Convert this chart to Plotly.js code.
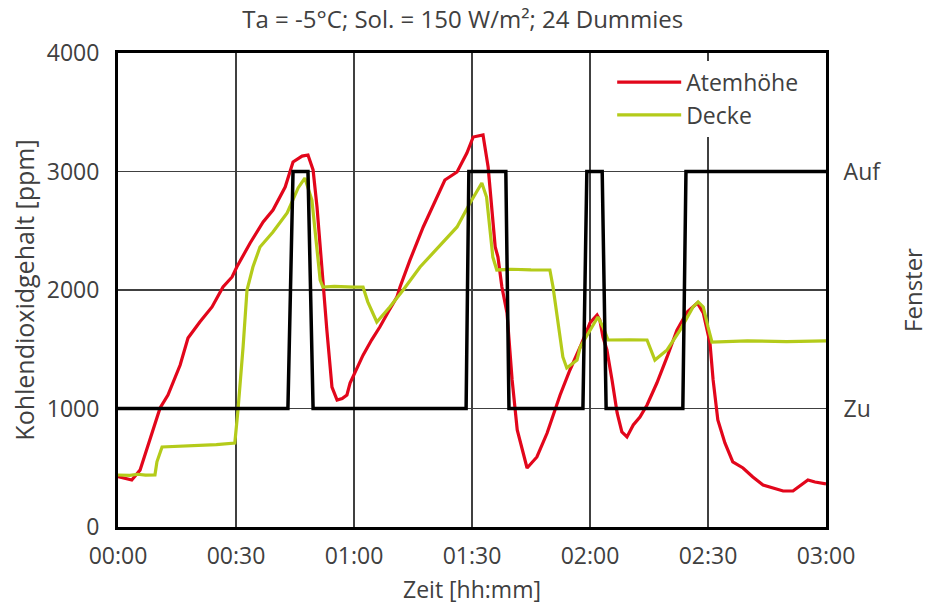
<!DOCTYPE html>
<html>
<head>
<meta charset="utf-8">
<script src="https://cdn.plot.ly/plotly-3.0.1.min.js"></script>
<style>
  html, body { margin: 0; padding: 0; background: #ffffff; }
  #chart { width: 929px; height: 608px; }
</style>
</head>
<body>
<div id="chart"></div>
<script>
// Time in minutes since start
const atemT = [0, 1.5, 3.5, 5.6, 8.1, 10.7, 12.7, 15.8, 17.8, 20.8, 23.9, 26.7, 29, 30.2, 33.6, 36.9, 39.4, 42.5, 44.5, 46.8, 48.3, 49.6, 50.6, 51.4, 52.1, 53.1, 54.4, 55.7, 57, 58.2, 59, 60.5, 62.3, 64.5, 66.6, 68.8, 70.9, 71.7, 74.2, 77.6, 80.1, 83.1, 86.2, 88.7, 90.3, 92.8, 94.1, 95.1, 95.9, 96.6, 97.6, 98.9, 100.2, 101.5, 104, 106.5, 109.1, 112.4, 114.9, 117.5, 120, 121.8, 122.5, 123.3, 124.3, 125.6, 126.9, 128.1, 129.4, 131, 132.7, 134.5, 137, 139.6, 142.1, 144.7, 147.3, 148.8, 150.5, 151.3, 152.5, 154.3, 156.3, 158.9, 161.4, 164, 166.5, 169.1, 171.6, 174.2, 175.4, 177.2, 180];
const atemPpm = [425, 410, 397, 480, 734, 1004, 1114, 1367, 1595, 1730, 1857, 2025, 2110, 2194, 2397, 2574, 2675, 2869, 3080, 3130, 3139, 3013, 2700, 2363, 2059, 1662, 1181, 1072, 1085, 1114, 1215, 1325, 1450, 1580, 1690, 1820, 1940, 2025, 2250, 2532, 2717, 2928, 2996, 3156, 3291, 3308, 3038, 2700, 2363, 2278, 2025, 1806, 1241, 819, 498, 591, 793, 1114, 1325, 1519, 1722, 1789, 1747, 1603, 1494, 1241, 962, 802, 760, 861, 928, 1030, 1215, 1435, 1662, 1814, 1890, 1806, 1553, 1241, 903, 709, 549, 498, 422, 354, 329, 304, 304, 371, 397, 380, 363];

const deckeT = [0, 3, 5, 7, 9.4, 9.9, 11.2, 15, 20, 25, 29.7, 30.5, 31.8, 32.8, 34.3, 36.1, 39.4, 43, 45.8, 47.5, 49.3, 50.6, 51.4, 52.1, 55, 60, 62.3, 63.5, 65.8, 69.1, 72.5, 76.8, 82.6, 86.2, 89.5, 92.5, 93.7, 94.5, 95.3, 96.3, 100, 105, 109.8, 110.6, 111.9, 113.1, 114.1, 116.7, 117.5, 120, 122, 123.3, 124.6, 130, 134.5, 136.5, 139.6, 142.9, 146.2, 147.5, 148.8, 150, 151, 160, 170, 180];
const deckePpm = [439, 435, 445, 438, 440, 550, 675, 680, 690, 695, 709, 987, 1519, 2000, 2194, 2363, 2489, 2650, 2861, 2945, 2759, 2363, 2084, 2025, 2030, 2025, 2025, 1900, 1730, 1857, 2000, 2194, 2397, 2532, 2734, 2903, 2785, 2532, 2278, 2169, 2175, 2170, 2169, 2025, 1722, 1435, 1342, 1409, 1519, 1662, 1772, 1688, 1578, 1580, 1578, 1409, 1494, 1662, 1857, 1899, 1857, 1688, 1561, 1570, 1565, 1570];

// Window state: 0 = Zu, 1 = Auf
const fensterT = [0, 43.2, 44.5, 48.3, 49.6, 88.5, 89.2, 98.6, 99.4, 118.2, 119.2, 123.1, 124.1, 143.6, 144.4, 180];
const fensterState = [0, 0, 1, 1, 0, 0, 1, 1, 0, 0, 1, 1, 0, 0, 1, 1];

const xTickVals = [0, 30, 60, 90, 120, 150, 180];
const xTickText = ['00:00', '00:30', '01:00', '01:30', '02:00', '02:30', '03:00'];
const fensterTickVals = [0, 1];
const fensterTickText = ['Zu', 'Auf'];

const FONT = 'Open Sans, DejaVu Sans, sans-serif';
const TXT = '#404040';

const traces = [
  {
    x: fensterT, y: fensterState, yaxis: 'y2', mode: 'lines', name: 'Fenster',
    line: {color: '#000000', width: 3.5}, showlegend: false, hoverinfo: 'skip'
  },
  {
    x: atemT, y: atemPpm, mode: 'lines', name: 'Atemhöhe',
    line: {color: '#E2061B', width: 3.2}
  },
  {
    x: deckeT, y: deckePpm, mode: 'lines', name: 'Decke',
    line: {color: '#B4CB1A', width: 3.2}
  }
];

const layout = {
  width: 929, height: 608,
  margin: {l: 118, r: 103, t: 53, b: 81, pad: 0},
  paper_bgcolor: '#ffffff', plot_bgcolor: '#ffffff',
  font: {family: FONT, size: 23, color: TXT},
  title: {
    text: 'Ta = -5°C; Sol. = 150 W/m²; 24 Dummies',
    font: {family: FONT, size: 24, color: TXT},
    x: 0.487, xanchor: 'center', xref: 'paper',
    y: 1 - 20 / 608, yanchor: 'middle', yref: 'container'
  },
  showlegend: true,
  legend: {
    x: 0.698, y: 0.984, xanchor: 'left', yanchor: 'top',
    bgcolor: '#ffffff', borderwidth: 0,
    font: {family: FONT, size: 23, color: TXT},
    itemwidth: 64, tracegroupgap: 0
  },
  xaxis: {
    range: [0, 180], tickvals: xTickVals, ticktext: xTickText,
    showgrid: true, gridcolor: '#404040', gridwidth: 1.5,
    zeroline: false, showline: true, mirror: true, linecolor: '#000000', linewidth: 3,
    ticks: 'outside', ticklen: 6, tickcolor: 'rgba(0,0,0,0)',
    tickfont: {family: FONT, size: 23, color: TXT},
    title: {text: 'Zeit [hh:mm]', font: {family: FONT, size: 23, color: TXT}, standoff: 13}
  },
  yaxis: {
    range: [0, 4000], dtick: 1000,
    showgrid: true, gridcolor: '#404040', gridwidth: 1.5,
    zeroline: false, showline: true, mirror: true, linecolor: '#000000', linewidth: 3,
    ticks: 'outside', ticklen: 11, tickcolor: 'rgba(0,0,0,0)',
    tickfont: {family: FONT, size: 23, color: TXT},
    title: {text: 'Kohlendioxidgehalt [ppm]', font: {family: FONT, size: 25, color: TXT}, standoff: 6}
  },
  yaxis2: {
    overlaying: 'y', side: 'right', range: [-0.5, 1.5],
    tickvals: fensterTickVals, ticktext: fensterTickText,
    showgrid: false, zeroline: false, showline: false,
    ticks: 'outside', ticklen: 12, tickcolor: 'rgba(0,0,0,0)',
    tickfont: {family: FONT, size: 23, color: TXT},
    title: {text: 'Fenster', font: {family: FONT, size: 24, color: TXT}, standoff: 31}
  }
};

Plotly.newPlot('chart', traces, layout, {displayModeBar: false, staticPlot: true});
</script>
</body>
</html>
